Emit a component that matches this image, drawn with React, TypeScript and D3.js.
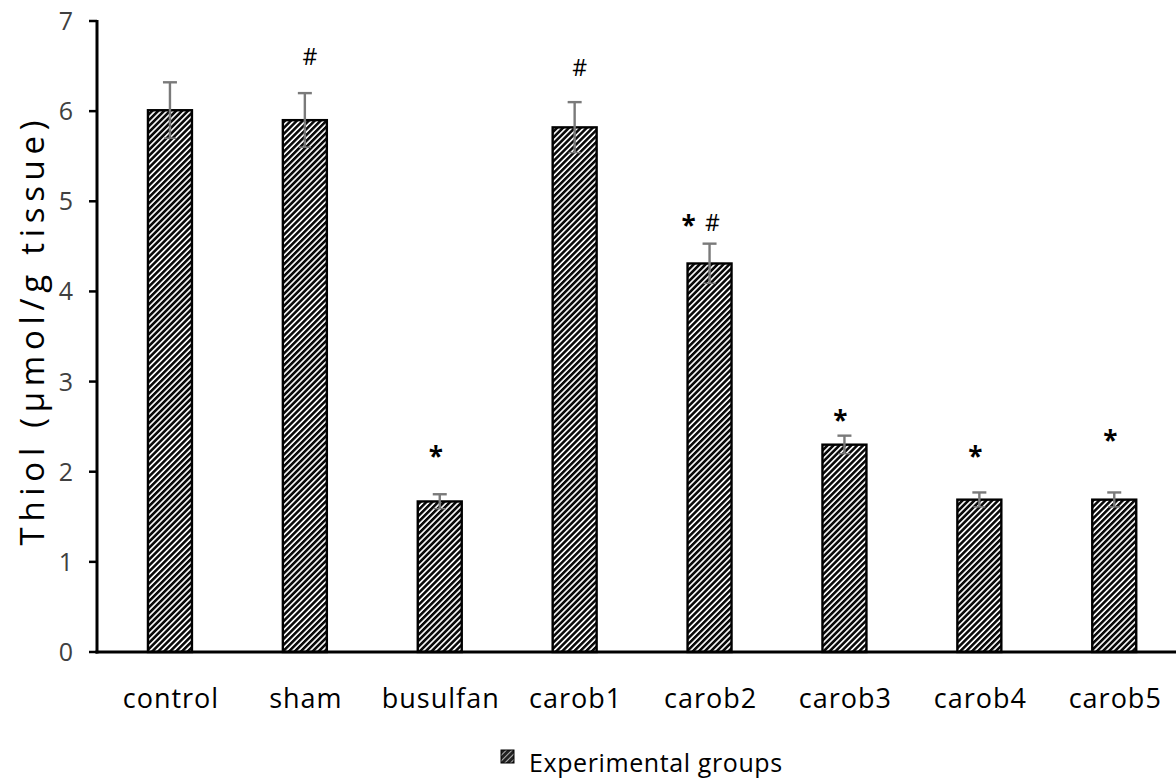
import React from "react";
import * as d3 from "d3";

const categories = ["control", "sham", "busulfan", "carob1", "carob2", "carob3", "carob4", "carob5"];
const values = [6.01, 5.9, 1.67, 5.82, 4.31, 2.3, 1.69, 1.69];
const errors = [0.31, 0.3, 0.08, 0.28, 0.22, 0.1, 0.08, 0.08];
const starMarks = [false, false, true, false, true, true, true, true];
const hashMarks = [false, true, false, true, true, false, false, false];
const markLevels = [0, 6.6, 2.2, 6.48, 4.76, 2.6, 2.2, 2.37];
const yTicks = [0, 1, 2, 3, 4, 5, 6, 7];
const yTitle = "Thiol (µmol/g tissue)";
const legendLabel = "Experimental groups";

const W = 1176;
const H = 782;
const axisX = 97;
const y0 = 652;
const yTop = 21;
const font = "'Open Sans', sans-serif";

export default function App() {
  const y = d3.scaleLinear().domain([0, 7]).range([y0, yTop]);
  const x = d3
    .scaleBand<string>()
    .domain(categories)
    .range([102.5, 1181.7])
    .paddingInner(0.674)
    .paddingOuter(0.337);
  const bw = x.bandwidth();
  const errColor = "#7a7a7a";

  return (
    <svg width={W} height={H} style={{ position: "absolute", left: 0, top: 0, background: "#fff" }}>
      <defs>
        <pattern id="hatch" patternUnits="userSpaceOnUse" width="4.2" height="4.2" patternTransform="rotate(45)">
          <rect width="4.2" height="4.2" fill="#fff" />
          <rect x="0" y="0" width="2.6" height="4.2" fill="#0a0a0a" />
        </pattern>
        <pattern id="hatchLegend" patternUnits="userSpaceOnUse" width="4" height="4" patternTransform="rotate(45)">
          <rect width="4" height="4" fill="#222" />
          <line x1="0" y1="0" x2="0" y2="4" stroke="#fff" strokeWidth="1.3" />
        </pattern>
      </defs>
      {categories.map((c, i) => {
        const bx = x(c)!;
        const cx = bx + bw / 2;
        const v = values[i];
        const e = errors[i];
        return (
          <g key={c}>
            <rect x={bx} y={y(v)} width={bw} height={y0 - y(v)} fill="url(#hatch)" stroke="#000" strokeWidth={2.4} />
            <line x1={cx} x2={cx} y1={y(v + e)} y2={y(v - e)} stroke={errColor} strokeWidth={2.4} />
            <line x1={cx - 7} x2={cx + 7} y1={y(v + e)} y2={y(v + e)} stroke={errColor} strokeWidth={2.4} />
            <line x1={cx - 6} x2={cx + 6} y1={y(v - e)} y2={y(v - e)} stroke={errColor} strokeWidth={1.5} />
            {starMarks[i] && (
              <text
                x={hashMarks[i] ? cx - 21 : cx - 4}
                y={y(markLevels[i]) + 12}
                fontFamily={font}
                fontSize={26}
                fontWeight="bold"
                textAnchor="middle"
                fill="#000"
              >
                *
              </text>
            )}
            {hashMarks[i] && (
              <text
                x={starMarks[i] ? cx + 3 : cx + 5}
                y={y(markLevels[i]) + 8}
                fontFamily={font}
                fontSize={23}
                textAnchor="middle"
                fill="#000"
              >
                #
              </text>
            )}
            <text
              x={cx + 1}
              y={708}
              fontFamily={font}
              fontSize={27}
              letterSpacing={1}
              textAnchor="middle"
              fill="#000"
            >
              {c}
            </text>
          </g>
        );
      })}
      <line x1={axisX} x2={axisX} y1={yTop - 1} y2={y0 + 1.5} stroke="#000" strokeWidth={3} />
      {yTicks.map((t) => (
        <g key={t}>
          <line x1={axisX - 8} x2={axisX} y1={y(t)} y2={y(t)} stroke="#000" strokeWidth={2.5} />
          <text x={73} y={y(t) + 9} fontFamily={font} fontSize={25} textAnchor="end" fill="#404040">
            {t}
          </text>
        </g>
      ))}
      <line x1={axisX - 1.5} x2={W} y1={y0} y2={y0} stroke="#000" strokeWidth={3} />
      <text
        transform={`translate(44, ${333}) rotate(-90)`}
        fontFamily={font}
        fontSize={33}
        textAnchor="middle"
        textLength={425}
        lengthAdjust="spacing"
        fill="#000"
      >
        {yTitle}
      </text>
      <rect x={501} y={750} width={13} height={13} fill="url(#hatchLegend)" stroke="#000" strokeWidth={1} />
      <text x={529} y={772} fontFamily={font} fontSize={25} letterSpacing={0.6} fill="#000">
        {legendLabel}
      </text>
    </svg>
  );
}
